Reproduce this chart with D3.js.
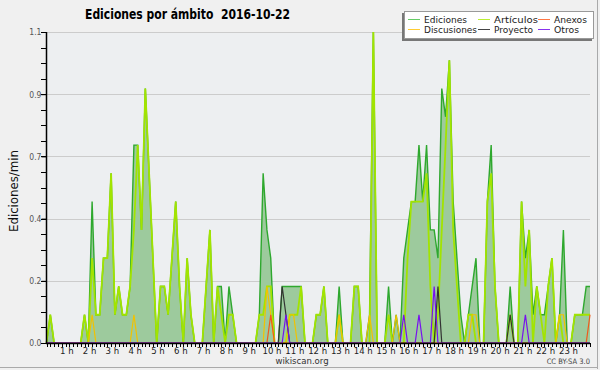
<!DOCTYPE html>
<html>
<head>
<meta charset="utf-8">
<script src="https://cdn.jsdelivr.net/npm/d3@7/dist/d3.min.js"></script>
<style>
body { margin: 0; background: #f0f0f0; }
text { font-family: "DejaVu Sans Condensed", "DejaVu Sans", sans-serif; }
</style>
</head>
<body>
<svg id="chart" width="600" height="370"></svg>
<script>
// edits per minute, one value every 10 minutes, 00:00 -> 23:50
var ediciones = [
  0, 0.1, 0, 0, 0, 0, 0, 0, 0, 0, 0.1, 0,
  0.5, 0.1, 0.1, 0.3, 0.3, 0.6, 0.1, 0.2, 0.1, 0.1, 0.2, 0.7,
  0.7, 0.4, 0.9, 0.6, 0.3, 0, 0.2, 0.2, 0.1, 0.3, 0.5, 0.2,
  0, 0.3, 0.1, 0, 0, 0, 0.2, 0.4, 0, 0.2, 0.2, 0,
  0.2, 0.1, 0, 0, 0, 0, 0, 0, 0.1, 0.6, 0.4, 0.3,
  0, 0, 0.2, 0.2, 0.2, 0.2, 0.2, 0.2, 0, 0, 0, 0.1,
  0.1, 0.2, 0, 0, 0, 0.2, 0, 0, 0, 0.2, 0.2, 0,
  0, 0.1, 1.1, 0, 0, 0, 0.2, 0, 0.1, 0, 0.3, 0.4,
  0.5, 0.5, 0.7, 0.5, 0.7, 0.4, 0.4, 0.3, 0.9, 0.8, 1.0, 0.5,
  0.3, 0.1, 0, 0.1, 0.2, 0.3, 0, 0, 0.5, 0.7, 0.2, 0,
  0, 0, 0.2, 0, 0, 0.5, 0.3, 0.4, 0.1, 0.2, 0.1, 0.1,
  0.2, 0.3, 0, 0.1, 0.4, 0, 0, 0.1, 0.1, 0.1, 0.2, 0.2
];
var articulos = [
  0, 0.1, 0, 0, 0, 0, 0, 0, 0, 0, 0.1, 0,
  0.3, 0.1, 0.1, 0.3, 0.3, 0.6, 0.1, 0.2, 0.1, 0.1, 0.2, 0.4,
  0.7, 0.4, 0.9, 0.6, 0.3, 0, 0.2, 0.2, 0.1, 0.3, 0.5, 0.2,
  0, 0.3, 0.1, 0, 0, 0, 0.2, 0.4, 0, 0.2, 0.1, 0,
  0.1, 0.1, 0, 0, 0, 0, 0, 0, 0.1, 0.1, 0.2, 0.2,
  0, 0, 0, 0, 0.1, 0.1, 0.1, 0.2, 0, 0, 0, 0.1,
  0.1, 0.2, 0, 0, 0, 0.1, 0, 0, 0, 0.2, 0.2, 0,
  0, 0, 1.1, 0, 0, 0, 0.1, 0, 0, 0, 0, 0.3,
  0.5, 0.5, 0.5, 0.5, 0.6, 0.2, 0, 0.1, 0.4, 0.7, 1.0, 0.4,
  0.2, 0, 0, 0.1, 0.1, 0, 0, 0, 0.5, 0.6, 0.2, 0,
  0, 0, 0.1, 0, 0, 0.5, 0.2, 0.4, 0, 0.2, 0.1, 0,
  0.2, 0.3, 0, 0.1, 0, 0, 0, 0.1, 0.1, 0.1, 0.1, 0.1
];
// sparse series: [slot, value]
var anexos = [[59, 0.1], [143, 0.1]];
var discusiones = [[12, 0.1], [23, 0.1], [58, 0.2], [59, 0.1], [64, 0.1], [65, 0.1], [77, 0.1],
  [85, 0.1], [92, 0.1], [112, 0.1], [113, 0.1], [135, 0.1], [136, 0.1]];
var proyecto = [[62, 0.2], [63, 0.1], [103, 0.2], [122, 0.1]];
var otros = [[63, 0.1], [94, 0.1], [98, 0.1], [102, 0.2], [126, 0.1]];

var yTicks = [0, 0.22, 0.44, 0.66, 0.88, 1.1];
var hourLabels = d3.range(1, 24);

var legendItems = [
  ["Ediciones", "#66cc66"], ["Artículos", "#bbee33"], ["Anexos", "#ff7744"],
  ["Discusiones", "#ffcc33"], ["Proyecto", "#444444"], ["Otros", "#8833ee"]
];

function dense(pairs) {
  var arr = ediciones.map(function() { return 0; });
  pairs.forEach(function(p) { arr[p[0]] = p[1]; });
  return arr;
}

function draw() {
  var svg = d3.select("#chart");
  var pl = 46, pr = 590, pt = 32, pb = 343;

  var x = d3.scaleLinear().domain([0, ediciones.length - 1]).range([pl + 0.5, pr]);
  var y = d3.scaleLinear().domain([0, 1.1]).range([pb, pt]);

  // frame
  svg.append("rect").attr("x", 0).attr("y", 0).attr("width", 600).attr("height", 370).attr("fill", "#f0f0f0");
  svg.append("line").attr("x1", 597.5).attr("x2", 597.5).attr("y1", 0).attr("y2", 369).attr("stroke", "#aaa");
  svg.append("line").attr("x1", 0).attr("x2", 598).attr("y1", 367.5).attr("y2", 367.5).attr("stroke", "#aaa");

  svg.append("rect").attr("x", pl).attr("y", pt).attr("width", pr - pl).attr("height", pb - pt)
    .attr("fill", "#edeff1");

  // grid
  svg.append("g").selectAll("line").data(yTicks.slice(1)).enter().append("line")
    .attr("x1", pl).attr("x2", pr)
    .attr("y1", function(d) { return Math.round(y(d)) + 0.5; })
    .attr("y2", function(d) { return Math.round(y(d)) + 0.5; })
    .attr("stroke", "#cccccc");

  // area + lines
  var area = d3.area().x(function(d, i) { return x(i); }).y0(y(0)).y1(function(d) { return y(d); });
  var line = d3.line().x(function(d, i) { return x(i); }).y(function(d) { return y(d); });

  svg.append("path").datum(ediciones).attr("d", area).attr("fill", "#9dca9d");
  svg.append("path").datum(ediciones).attr("d", line).attr("fill", "none")
    .attr("stroke", "#2ea82e").attr("stroke-width", 1.4);
  svg.append("path").datum(articulos).attr("d", line).attr("fill", "none")
    .attr("stroke", "#a2e400").attr("stroke-width", 1.8);

  [[discusiones, "#f2c200"], [anexos, "#f05a1a"], [proyecto, "#333333"], [otros, "#7711ee"]].forEach(function(s) {
    svg.append("path").datum(dense(s[0])).attr("d", line).attr("fill", "none")
      .attr("stroke", s[1]).attr("stroke-width", 1.2);
  });

  // y axis
  var yAxis = d3.axisLeft(y).tickValues(yTicks).tickSize(5).tickFormat(d3.format(".1f"));
  var gy = svg.append("g").attr("transform", "translate(" + (pl + 0.5) + ",0)").call(yAxis);
  gy.select(".domain").remove();
  gy.selectAll("text").attr("font-size", 8.5).attr("fill", "#555").attr("x", -5).attr("dy", "0.35em");
  var minor = d3.range(0, 1.1 + 1e-9, 0.055);
  svg.append("g").selectAll("line").data(minor).enter().append("line")
    .attr("x1", pl - 5).attr("x2", pl)
    .attr("y1", function(d) { return Math.round(y(d)) + 0.5; })
    .attr("y2", function(d) { return Math.round(y(d)) + 0.5; })
    .attr("stroke", "#000");
  svg.append("line").attr("x1", pl + 0.5).attr("x2", pl + 0.5).attr("y1", pt).attr("y2", pb)
    .attr("stroke", "#000").attr("stroke-width", 1.5);

  // x axis
  svg.append("g").selectAll("line").data(d3.range(ediciones.length)).enter().append("line")
    .attr("x1", function(i) { return Math.round(x(i)) + 0.5; })
    .attr("x2", function(i) { return Math.round(x(i)) + 0.5; })
    .attr("y1", pb).attr("y2", pb + 4)
    .attr("stroke", "#000");
  svg.append("line").attr("x1", pl).attr("x2", pr).attr("y1", pb + 0.5).attr("y2", pb + 0.5)
    .attr("stroke", "#000").attr("stroke-width", 1.5);
  svg.append("g").selectAll("text").data(hourLabels).enter().append("text")
    .attr("x", function(h) { return x(h * 6) - 2.5; })
    .attr("y", 354)
    .attr("text-anchor", "middle")
    .attr("font-size", 9.5).attr("fill", "#222")
    .text(function(h) { return h + " h"; });

  // titles
  svg.append("text").attr("x", 85).attr("y", 19).attr("font-size", 13.5).attr("font-weight", "bold")
    .attr("textLength", 205).attr("lengthAdjust", "spacingAndGlyphs")
    .style("white-space", "pre").text("Ediciones por ámbito  2016-10-22");
  svg.append("text").attr("transform", "translate(18,191) rotate(-90)").attr("text-anchor", "middle")
    .attr("font-size", 11.5).attr("fill", "#111")
    .attr("textLength", 82).attr("lengthAdjust", "spacingAndGlyphs").text("Ediciones/min");
  svg.append("text").attr("x", 302).attr("y", 364).attr("text-anchor", "middle").attr("font-size", 9.5)
    .attr("fill", "#333").text("wikiscan.org");
  svg.append("text").attr("x", 590).attr("y", 364).attr("text-anchor", "end").attr("font-size", 7.5)
    .attr("fill", "#444").text("CC BY-SA 3.0");

  // legend
  var lg = svg.append("g");
  lg.append("rect").attr("x", 402).attr("y", 13).attr("width", 190).attr("height", 28).attr("fill", "#777");
  lg.append("rect").attr("x", 404.5).attr("y", 11.5).attr("width", 189).attr("height", 27)
    .attr("fill", "#fff").attr("stroke", "#999");
  var colX = [408, 478, 538];
  var textW = [43, 44, 33, 53, 39, 25];
  legendItems.forEach(function(it, k) {
    var cx = colX[k % 3], cy = k < 3 ? 19 : 29;
    lg.append("line").attr("x1", cx).attr("x2", cx + 12).attr("y1", cy + 0.5).attr("y2", cy + 0.5)
      .attr("stroke", it[1]);
    lg.append("text").attr("x", cx + 16).attr("y", cy + 4).attr("font-size", 9.5).attr("fill", "#222")
      .attr("textLength", textW[k]).attr("lengthAdjust", "spacingAndGlyphs")
      .text(it[0]);
  });
}

draw();
</script>
</body>
</html>
